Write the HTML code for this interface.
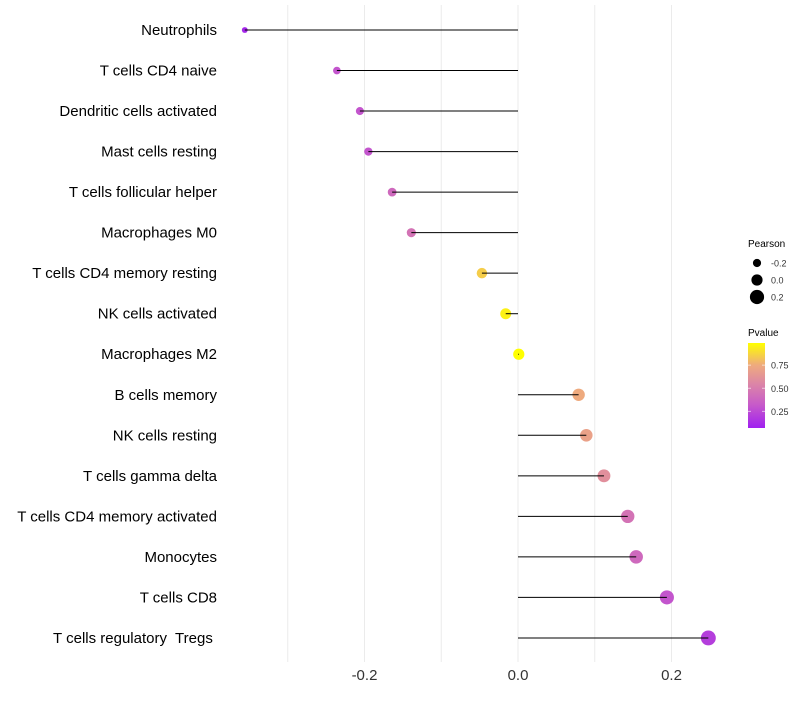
<!DOCTYPE html>
<html><head><meta charset="utf-8"><style>
body{margin:0;background:#fff;font-family:"Liberation Sans",sans-serif}
text{white-space:pre}
</style></head><body>
<svg id="chart" width="800" height="700"></svg>
<script>
const categories=["Neutrophils","T cells CD4 naive","Dendritic cells activated","Mast cells resting","T cells follicular helper","Macrophages M0","T cells CD4 memory resting","NK cells activated","Macrophages M2","B cells memory","NK cells resting","T cells gamma delta","T cells CD4 memory activated","Monocytes","T cells CD8","T cells regulatory  Tregs "];
const pearson=[-0.356,-0.236,-0.206,-0.195,-0.164,-0.139,-0.047,-0.016,0.001,0.079,0.089,0.112,0.143,0.154,0.194,0.248];
const pvalue=[0.1,0.3,0.3,0.3,0.4,0.45,0.85,0.95,0.99,0.75,0.7,0.6,0.45,0.4,0.3,0.2];
const xTicks=[-0.2,0,0.2];
const xTickLabels=["-0.2","0.0","0.2"];
const gridVals=[-0.3,-0.2,-0.1,0,0.1,0.2];
const sizeLegend=[-0.2,0,0.2];
const colorTicks=[0.25,0.5,0.75];

const NS="http://www.w3.org/2000/svg";
const svg=document.getElementById('chart');
const x=v=>518+v*767.5;
const y=i=>30+i*40.53;
const r=v=>Math.max(1.8,5.6+7.5*v);
const stops=[[0.07,[160,32,240]],[0.33,[200,92,200]],[0.55,[220,134,166]],[0.75,[238,170,126]],[0.99,[255,255,0]]];
function col(p){if(p<=stops[0][0])return `rgb(${stops[0][1]})`;
for(let i=1;i<stops.length;i++){if(p<=stops[i][0]){const a=stops[i-1],b=stops[i],t=(p-a[0])/(b[0]-a[0]);
return `rgb(${a[1].map((c,k)=>Math.round(c+(b[1][k]-c)*t)).join(',')})`;}}
return `rgb(${stops[4][1]})`;}
const cy=p=>428-(p-0.07)/(0.99-0.07)*85;
function el(t,a,txt){const e=document.createElementNS(NS,t);for(const k in a)e.setAttribute(k,a[k]);if(txt!=null)e.textContent=txt;svg.appendChild(e);return e;}

gridVals.forEach(v=>{const g=el('line',{x1:x(v),x2:x(v),y1:5,y2:662,stroke:'#ebebeb','stroke-width':1});

});
xTicks.forEach((v,i)=>{const t=el('text',{x:x(v),y:680,'text-anchor':'middle','font-size':15,fill:'#333'},xTickLabels[i]);

});
categories.forEach((c,i)=>{
const t=el('text',{x:217,y:y(i)+5,'text-anchor':'end','font-size':15,fill:'#000'},c);


const d=el('circle',{cx:x(pearson[i]),cy:y(i),r:r(pearson[i]),fill:col(pvalue[i])});


const l=el('line',{x1:x(0),x2:x(pearson[i]),y1:y(i),y2:y(i),stroke:'#000','stroke-width':1});


});
const lt=el('text',{x:748,y:247,'font-size':10,fill:'#000'},'Pearson');


sizeLegend.forEach((v,i)=>{const yy=263+i*17;
const c=el('circle',{cx:757,cy:yy,r:r(v),fill:'#000'});


const t=el('text',{x:771,y:yy+3.5,'font-size':9,fill:'#333'},(v===0?'0.0':String(v)));

});
const pt=el('text',{x:748,y:336,'font-size':10,fill:'#000'},'Pvalue');


const defs=el('defs',{});const lg=document.createElementNS(NS,'linearGradient');
lg.setAttribute('id','pg');lg.setAttribute('x1','0');lg.setAttribute('y1','1');lg.setAttribute('x2','0');lg.setAttribute('y2','0');
stops.forEach(s=>{const st=document.createElementNS(NS,'stop');st.setAttribute('offset',(s[0]-0.07)/0.92);st.setAttribute('stop-color',`rgb(${s[1]})`);lg.appendChild(st);});
defs.appendChild(lg);
const bar=el('rect',{x:748,y:343,width:17,height:85,fill:'url(#pg)'});


colorTicks.forEach(p=>{const yy=cy(p);
el('line',{x1:748,x2:751,y1:yy,y2:yy,stroke:'#fff','stroke-width':1,opacity:0.6});
el('line',{x1:762,x2:765,y1:yy,y2:yy,stroke:'#fff','stroke-width':1,opacity:0.6});
const t=el('text',{x:771,y:yy+3.5,'font-size':9,fill:'#333'},p.toFixed(2));

});
</script>
</body></html>
